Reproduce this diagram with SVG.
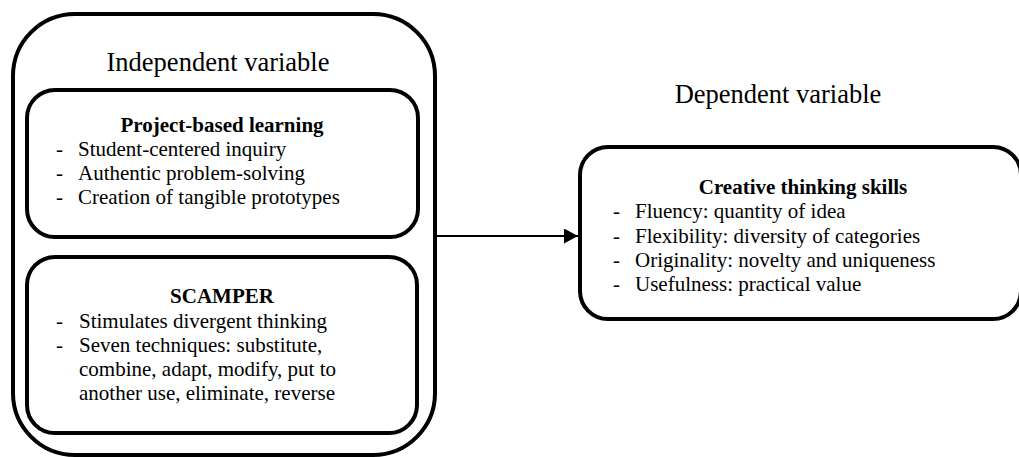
<svg xmlns="http://www.w3.org/2000/svg" width="1019" height="457" viewBox="0 0 1019 457">
<style>
.box{fill:#fff;stroke:#000;stroke-width:4}
.t{font-family:"Liberation Serif","Times New Roman",serif;font-size:21px;fill:#000}
.b{font-weight:bold}
.h{font-family:"Liberation Serif","Times New Roman",serif;font-size:26.5px;fill:#000}
.c{stroke:#000;stroke-width:2;fill:none}
</style>
<defs>
<marker id="arr" markerWidth="14" markerHeight="15" refX="14" refY="7.5" orient="auto" markerUnits="userSpaceOnUse">
<path d="M0,0 L14,7.5 L0,15 Z" fill="#000"/>
</marker>
</defs>
<rect width="1019" height="457" fill="#fff"/>
<g id="independent">
<rect class="box" x="13" y="14" width="422" height="441" rx="62"/>
<text class="h" x="218" y="71" text-anchor="middle">Independent variable</text>
</g>
<g id="pbl">
<rect class="box" x="27" y="90" width="391" height="147" rx="28"/>
<text class="t b" x="222" y="132" text-anchor="middle">Project-based learning</text>
<text class="t" x="56" y="156">-</text><text class="t" x="78" y="156">Student-centered inquiry</text>
<text class="t" x="56" y="180">-</text><text class="t" x="78" y="180">Authentic problem-solving</text>
<text class="t" x="56" y="204">-</text><text class="t" x="78" y="204">Creation of tangible prototypes</text>
</g>
<g id="scamper">
<rect class="box" x="27" y="257" width="390" height="176" rx="28"/>
<text class="t b" x="222" y="303" text-anchor="middle">SCAMPER</text>
<text class="t" x="56" y="328">-</text><text class="t" x="79" y="328">Stimulates divergent thinking</text>
<text class="t" x="56" y="352">-</text><text class="t" x="79" y="352">Seven techniques: substitute,</text>
<text class="t" x="79" y="376">combine, adapt, modify, put to</text>
<text class="t" x="79" y="400">another use, eliminate, reverse</text>
</g>
<g id="dependent">
<text class="h" x="778" y="103" text-anchor="middle">Dependent variable</text>
<rect class="box" x="580" y="147" width="441" height="172" rx="28"/>
<text class="t b" x="803" y="194" text-anchor="middle">Creative thinking skills</text>
<text class="t" x="613" y="218">-</text><text class="t" x="635" y="218">Fluency: quantity of idea</text>
<text class="t" x="613" y="243">-</text><text class="t" x="635" y="243">Flexibility: diversity of categories</text>
<text class="t" x="613" y="267">-</text><text class="t" x="635" y="267">Originality: novelty and uniqueness</text>
<text class="t" x="613" y="291">-</text><text class="t" x="635" y="291">Usefulness: practical value</text>
</g>
<g id="connectors">
<line class="c" x1="437" y1="236" x2="578" y2="236" marker-end="url(#arr)"/>
</g>
</svg>
